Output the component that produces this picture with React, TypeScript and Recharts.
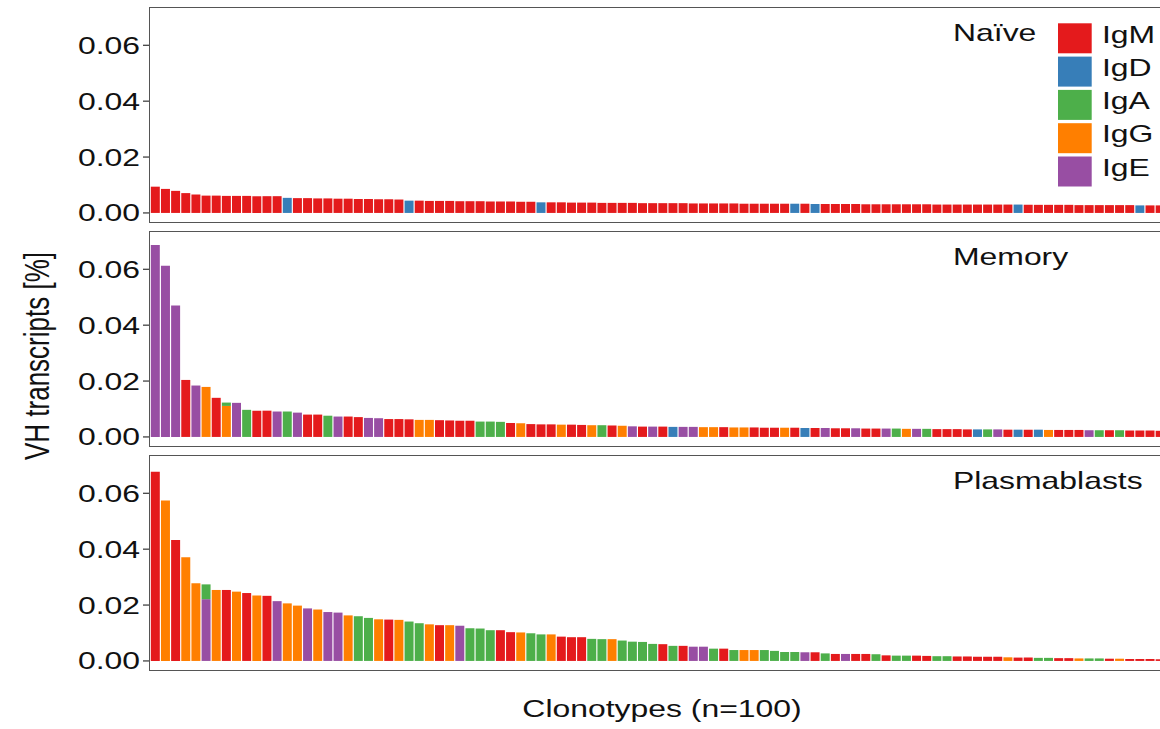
import { BarChart, Bar, XAxis, YAxis } from "recharts"

// isotype codes: M=IgM D=IgD A=IgA G=IgG E=IgE
const naiveValues = [
  0.0094, 0.0086, 0.0079, 0.0071, 0.0066, 0.0062, 0.0062, 0.0061, 0.0061, 0.0061,
  0.006, 0.006, 0.006, 0.0054, 0.0053, 0.0053, 0.0052, 0.0052, 0.0051, 0.0051,
  0.005, 0.005, 0.0049, 0.0049, 0.0048, 0.0044, 0.0044, 0.0043, 0.0043, 0.0043,
  0.0042, 0.0042, 0.0042, 0.0041, 0.0041, 0.0041, 0.004, 0.004, 0.0038, 0.0038,
  0.0038, 0.0037, 0.0037, 0.0037, 0.0036, 0.0036, 0.0036, 0.0036, 0.0035, 0.0035,
  0.0035, 0.0035, 0.0035, 0.0034, 0.0034, 0.0034, 0.0034, 0.0034, 0.0033, 0.0033,
  0.0033, 0.0033, 0.0033, 0.0033, 0.0033, 0.0032, 0.0032, 0.0032, 0.0032, 0.0032,
  0.0031, 0.0031, 0.0031, 0.0031, 0.0031, 0.0031, 0.0031, 0.003, 0.003, 0.003,
  0.003, 0.003, 0.003, 0.003, 0.003, 0.003, 0.0029, 0.0029, 0.0029, 0.0029,
  0.0029, 0.0028, 0.0028, 0.0028, 0.0028, 0.0028, 0.0028, 0.0027, 0.0027, 0.0027,
]
const naiveIsotypes =
  "MMMMMMMMMM MMMDMMMMMM MMMMMDMMMM MMMMMMMMDM MMMMMMMMMM MMMMMMMMMM MMMDMDMMMM MMMMMMMMMM MMMMMDMMMM MMMMMMMDMM"

const memoryValues = [
  0.0687, 0.0613, 0.047, 0.0204, 0.0184, 0.0179, 0.014, 0.0123, 0.0122, 0.0097,
  0.0094, 0.0094, 0.0091, 0.0091, 0.0087, 0.008, 0.008, 0.0076, 0.0073, 0.0073,
  0.0071, 0.0068, 0.0067, 0.0064, 0.0064, 0.0063, 0.0061, 0.0061, 0.006, 0.0059,
  0.0058, 0.0058, 0.0055, 0.0055, 0.0054, 0.005, 0.0049, 0.0046, 0.0045, 0.0045,
  0.0044, 0.0044, 0.0043, 0.0042, 0.0042, 0.0041, 0.004, 0.0038, 0.0037, 0.0037,
  0.0037, 0.0036, 0.0036, 0.0036, 0.0035, 0.0035, 0.0035, 0.0034, 0.0034, 0.0034,
  0.0033, 0.0033, 0.0033, 0.0033, 0.0032, 0.0032, 0.0032, 0.0031, 0.0031, 0.0031,
  0.003, 0.003, 0.003, 0.003, 0.0029, 0.0029, 0.0029, 0.0028, 0.0028, 0.0028,
  0.0027, 0.0027, 0.0027, 0.0027, 0.0026, 0.0026, 0.0026, 0.0026, 0.0025, 0.0025,
  0.0025, 0.0025, 0.0024, 0.0024, 0.0024, 0.0024, 0.0023, 0.0023, 0.0023, 0.0022,
]
const memoryIsotypes =
  "EEEMEGMGEA MMEAEMMAEM MEEMMMGGMM MMAAAMGMMM GMMGAMGEME MDEEGGMGGM MMGMDMEMME MMEAGEAMMM MDAEMDMDGM MMEAMAMMMM"
const memoryMixed = [{ clonotype: 8, isotype: "IgA", value: 0.0012 }]

const plasmaValues = [
  0.0677, 0.0574, 0.0433, 0.0371, 0.0278, 0.0274, 0.0254, 0.0254, 0.0248, 0.0243,
  0.0234, 0.0233, 0.0214, 0.0206, 0.0198, 0.0188, 0.0184, 0.0175, 0.0173, 0.0163,
  0.016, 0.0154, 0.0149, 0.0148, 0.0147, 0.0141, 0.0135, 0.0131, 0.0128, 0.0128,
  0.0126, 0.0117, 0.0116, 0.011, 0.011, 0.0103, 0.0102, 0.0099, 0.0095, 0.0095,
  0.0087, 0.0085, 0.0085, 0.0079, 0.0078, 0.0078, 0.0073, 0.0069, 0.0068, 0.0061,
  0.006, 0.0054, 0.0054, 0.0051, 0.0051, 0.0044, 0.0044, 0.0039, 0.0039, 0.0039,
  0.0039, 0.0036, 0.0032, 0.0032, 0.0031, 0.0031, 0.0027, 0.0025, 0.0025, 0.0025,
  0.0025, 0.0024, 0.002, 0.0019, 0.0019, 0.0019, 0.0018, 0.0017, 0.0017, 0.0016,
  0.0016, 0.0015, 0.0015, 0.0015, 0.0013, 0.0012, 0.0012, 0.0011, 0.0011, 0.001,
  0.001, 0.0009, 0.0009, 0.0009, 0.0008, 0.0008, 0.0007, 0.0007, 0.0007, 0.0006,
]
const plasmaIsotypes =
  "MGMGGEGMGM GMEGGEGEEG AAGMGAAGMG EAAAMMGAAG MMMAAGAAAA MAMEEAMAGG AAAAEMAMEM MAMAAMMAAM MMMMGMMAAM MGAAMGMMMM"
const plasmaMixed = [{ clonotype: 6, isotype: "IgA", value: 0.0053 }]

const isotypes = ["IgM", "IgD", "IgA", "IgG", "IgE"]
const yTicks = [0, 0.02, 0.04, 0.06]

const COLORS: Record<string, string> = {
  IgM: "#E41A1C",
  IgD: "#377EB8",
  IgA: "#4DAF4A",
  IgG: "#FF7F00",
  IgE: "#984EA3",
}
const CODE: Record<string, string> = { M: "IgM", D: "IgD", A: "IgA", G: "IgG", E: "IgE" }

const FONT = "'Liberation Sans', Arial, sans-serif"
const SX = 1.33 // the figure is stretched horizontally
const CHART_W = 1165
const AXIS_W = 150
const PANEL_H = 216
const PAD = 12 // room above/below the plot so tick labels are not clipped
const Y_DOMAIN = [-0.0036, 0.0737]

type Mixed = { clonotype: number; isotype: string; value: number }

function buildRows(values: number[], codes: string, mixed: Mixed[]) {
  const letters = codes.replace(/ /g, "").split("")
  return values.map((v, i) => {
    const row: Record<string, number> = { clonotype: i + 1, IgM: 0, IgD: 0, IgA: 0, IgG: 0, IgE: 0 }
    const extra = mixed.find((m) => m.clonotype === i + 1)
    row[CODE[letters[i]]] = extra ? v - extra.value : v
    if (extra) row[extra.isotype] = extra.value
    return row
  })
}

const panels = [
  { label: "Naïve", top: 7, rows: buildRows(naiveValues, naiveIsotypes, []) },
  { label: "Memory", top: 231, rows: buildRows(memoryValues, memoryIsotypes, memoryMixed) },
  { label: "Plasmablasts", top: 455, rows: buildRows(plasmaValues, plasmaIsotypes, plasmaMixed) },
]

// ggplot stacks the first level on top, so draw from the bottom up
const stackOrder = [...isotypes].reverse()

function ScaledTick(props: any) {
  const { x, y, payload } = props
  return (
    <text
      transform={`translate(${x},${y}) scale(${SX},1)`}
      textAnchor="end"
      dy="0.355em"
      fontSize={24}
      fontFamily={FONT}
      fill="#111"
    >
      {Number(payload.value).toFixed(2)}
    </text>
  )
}

function Panel({ rows, top }: { rows: Record<string, number>[]; top: number }) {
  return (
    <div style={{ position: "absolute", left: 0, top: top - PAD, width: CHART_W, height: PANEL_H + 2 * PAD }}>
      <BarChart
        width={CHART_W}
        height={PANEL_H + 2 * PAD}
        data={rows}
        margin={{ top: PAD, right: 0, bottom: PAD, left: 0 }}
        barCategoryGap="8%"
      >
        <XAxis dataKey="clonotype" hide />
        <YAxis
          width={AXIS_W}
          domain={Y_DOMAIN}
          ticks={yTicks}
          allowDataOverflow
          axisLine={false}
          tickLine={{ stroke: "#333", strokeWidth: 1.2 }}
          tickSize={7}
          tickMargin={3}
          tick={(p: any) => <ScaledTick {...p} />}
        />
        {stackOrder.map((k) => (
          <Bar key={k} dataKey={k} stackId="s" fill={COLORS[k]} isAnimationActive={false} />
        ))}
      </BarChart>
      <div
        style={{
          position: "absolute",
          left: AXIS_W - 1,
          top: PAD,
          width: CHART_W - AXIS_W + 1,
          height: PANEL_H,
          border: "1.3px solid #555",
          boxSizing: "border-box",
          pointerEvents: "none",
        }}
      />
    </div>
  )
}

function stretched(x: number, y: number) {
  return `translate(${x},${y}) scale(${SX},1)`
}

export default function App() {
  return (
    <div
      style={{
        position: "absolute",
        left: 0,
        top: 0,
        width: 1160,
        height: 729,
        overflow: "hidden",
        background: "#fff",
        fontFamily: FONT,
      }}
    >
      {panels.map((p) => (
        <Panel key={p.label} rows={p.rows} top={p.top} />
      ))}
      <svg width={1160} height={729} style={{ position: "absolute", left: 0, top: 0, pointerEvents: "none" }}>
        {panels.map((p) => (
          <text key={p.label} transform={stretched(953, p.top + 34)} fontSize={24} fontFamily={FONT} fill="#111">
            {p.label}
          </text>
        ))}
        {isotypes.map((k, i) => (
          <g key={k}>
            <rect x={1058} y={23.3 + i * 33.3} width={33.7} height={30} fill={COLORS[k]} />
            <text transform={stretched(1102, 42.5 + i * 33.3)} fontSize={24} fontFamily={FONT} fill="#111">
              {k}
            </text>
          </g>
        ))}
        <text
          transform={`translate(37,356) scale(${SX},1) rotate(-90)`}
          textAnchor="middle"
          dy="0.35em"
          fontSize={26}
          fontFamily={FONT}
          fill="#111"
        >
          VH transcripts [%]
        </text>
        <text transform={stretched(662, 717)} textAnchor="middle" fontSize={24} fontFamily={FONT} fill="#111">
          Clonotypes (n=100)
        </text>
      </svg>
    </div>
  )
}
